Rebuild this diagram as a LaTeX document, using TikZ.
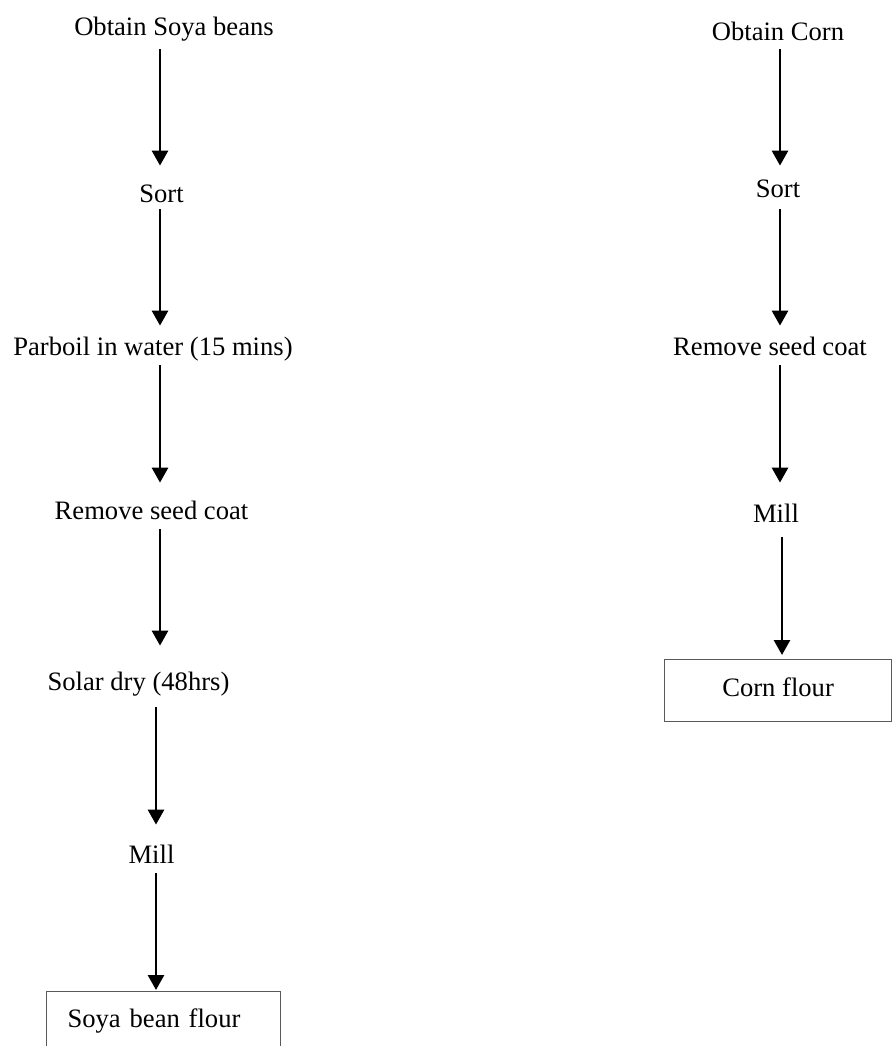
\documentclass[tikz,border=0pt]{standalone}
\usepackage{fontspec}
\setmainfont{Liberation Serif}
\usetikzlibrary{arrows.meta}
\begin{document}
\begin{tikzpicture}[x=0.5pt,y=-0.5pt,
  stepnode/.style={inner sep=0pt, text height=9pt, text depth=3pt, anchor=base, font=\fontsize{13.3}{16}\selectfont},
  arr/.style={line width=1.4pt, -{Triangle[width=8pt,length=7.5pt]}},
  flourbox/.style={draw=black!65, line width=0.6pt, inner ysep=0pt, text height=9pt, text depth=3pt, font=\fontsize{13.3}{16}\selectfont}]
\useasboundingbox (0,0) rectangle (892,1046);
% column coordinates
\coordinate (colA) at (160,0);
\coordinate (colB) at (156,0);
\coordinate (colC) at (780,0);
\coordinate (colD) at (782,0);
% left column
\node[stepnode] (obtainL) at (174,35) {Obtain Soya beans};
\node[stepnode] (sortL) at (161.5,202) {Sort};
\node[stepnode] (parboil) at (153,355) {Parboil in water (15 mins)};
\node[stepnode] (removeL) at (151.5,519) {Remove seed coat};
\node[stepnode] (solar) at (138.5,690) {Solar dry (48hrs)};
\node[stepnode] (millL) at (151.5,863) {Mill};
\node[flourbox, anchor=north west, minimum width=117pt, minimum height=30pt, inner xsep=10.5pt, text width=96pt, align=left] (soyabox) at (46,991) {Soya bean flour};
% right column
\node[stepnode] (obtainR) at (778,40) {Obtain Corn};
\node[stepnode] (sortR) at (778,197) {Sort};
\node[stepnode] (removeR) at (770,355) {Remove seed coat};
\node[stepnode] (millR) at (776,522) {Mill};
\node[flourbox, anchor=north west, minimum width=113.5pt, minimum height=31pt] (cornbox) at (664,659) {Corn flour};
% left arrows
\draw[arr, shorten <=4pt, shorten >=9pt] (obtainL.south -| colA) -- (sortL.north -| colA);
\draw[arr, shorten <=0.5pt, shorten >=5.5pt] (sortL.south -| colA) -- (parboil.north -| colA);
\draw[arr, shorten <=2pt, shorten >=9pt] (parboil.south -| colA) -- (removeL.north -| colA);
\draw[arr, shorten <=2pt, shorten >=13pt] (removeL.south -| colA) -- (solar.north -| colA);
\draw[arr, shorten <=5.5pt, shorten >=10pt] (solar.south -| colB) -- (millL.north -| colB);
\draw[arr, shorten <=2pt, shorten >=0.5pt] (millL.south -| colB) -- (soyabox.north -| colB);
% right arrows
\draw[arr, shorten <=1.5pt, shorten >=6.5pt] (obtainR.south -| colC) -- (sortR.north -| colC);
\draw[arr, shorten <=3pt, shorten >=5.5pt] (sortR.south -| colC) -- (removeR.north -| colC);
\draw[arr, shorten <=2pt, shorten >=10.5pt] (removeR.south -| colC) -- (millR.north -| colC);
\draw[arr, shorten <=4.5pt, shorten >=2pt] (millR.south -| colD) -- (cornbox.north -| colD);
\end{tikzpicture}
\end{document}
